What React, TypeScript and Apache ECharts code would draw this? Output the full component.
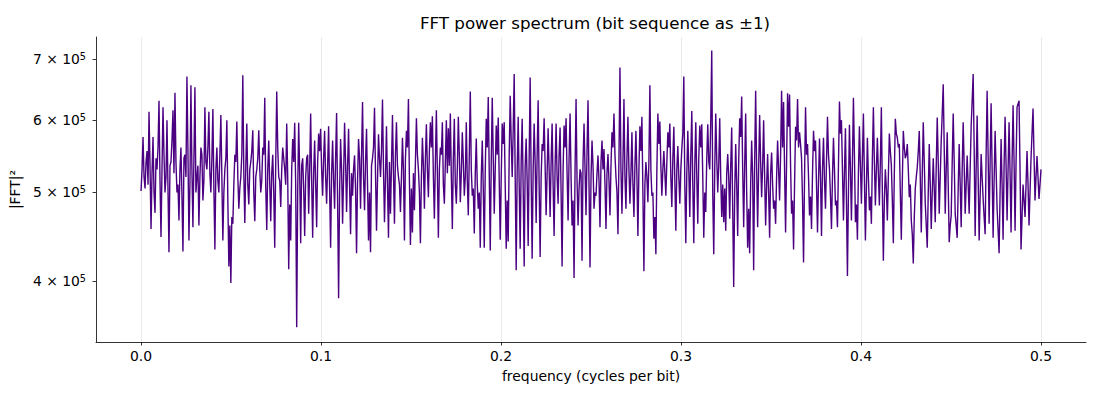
import React, { useEffect, useRef } from "react";
import * as echarts from "echarts";

// |FFT|^2 values in units of 1e5 (frequency 0 .. 0.5).
// "seg" arrays hold the visible spikes, "core" arrays the dense band between them.
const seg1 = [
  5.02, 5.75, 5.05, 5.55, 6.13, 4.56, 5.75, 4.75, 5.3, 6.30,
  4.47, 6.2, 5.0, 6.0, 4.3, 5.4, 6.15, 6.43, 5.0, 4.66,
  5.6, 4.31, 5.5, 6.7, 4.43, 6.55, 4.58, 6.52, 5.2, 4.6,
  5.6, 4.9, 6.2, 5.3, 6.13, 5.0, 6.17, 4.33, 5.6, 5.0,
  6.08, 4.43, 5.3, 6.0, 4.15, 3.98, 4.62, 5.5, 5.98, 4.8,
  5.2, 6.72, 4.63, 5.95, 4.85, 5.4, 5.85, 4.65, 5.3, 5.85,
  5.0, 5.6, 6.35, 4.55, 5.7, 4.65, 5.5, 4.35, 6.45, 5.2,
  4.82, 5.6, 5.3, 5.95, 4.12, 4.43,
];
const core1 = [
  5.3, 5.2, 5.4, 5.1, 5.35, 5.25, 5.0, 5.45, 5.6, 5.15,
  5.3, 5.5, 5.2, 5.05, 5.35, 5.7, 5.25, 5.4, 5.1, 5.3,
  4.95, 5.45, 5.2, 5.55, 5.1, 5.3, 5.45, 5.0, 5.35, 5.2,
  5.5, 5.15, 5.4, 5.6, 5.25, 5.45, 5.05, 5.3, 5.15, 5.5,
  5.2, 5.0, 5.45, 4.9, 4.6, 4.7, 5.1, 5.4, 5.2, 5.05,
  5.5, 5.25, 5.35, 5.1, 5.3, 5.55, 5.0, 5.2, 5.45, 5.3,
  5.15, 5.5, 5.05, 5.3, 5.1, 5.25, 5.0, 5.4, 5.6, 5.15,
  5.3, 5.45, 5.1, 5.2, 4.85, 5.3,
];
const seg2 = [
  5.72, 5.96, 3.56, 5.96, 4.40, 5.45, 4.48, 5.45, 4.74, 6.10,
  4.46, 5.70, 4.58, 5.80, 5.87, 4.96, 5.84, 4.86, 5.91, 4.35,
  5.70, 4.80, 6.11, 3.83, 5.72, 4.62, 5.96, 4.76, 5.87, 4.50,
  4.96, 5.49, 4.29, 5.72, 4.80, 6.28, 4.78, 5.87, 4.43, 4.30,
  5.45, 6.19, 4.54, 5.79, 5.2, 6.32, 4.64, 5.91, 4.46, 4.74,
  6.08, 4.62, 5.97, 5.2, 4.76, 5.74, 4.43, 5.84, 6.33, 4.38,
  4.52, 4.78, 6.03, 5.3, 4.40, 5.74, 4.80, 5.94, 4.94, 5.97,
  6.06, 4.68, 6.15, 4.46, 5.6, 5.97, 4.86, 6.0,
];
const core2 = [
  5.4, 5.1, 5.0, 5.25, 5.35, 5.05, 5.2, 5.5, 5.3, 5.15,
  5.25, 5.1, 5.4, 5.55, 5.3, 5.45, 5.2, 5.35, 5.05, 5.25,
  5.15, 5.45, 4.9, 5.0, 5.3, 5.2, 5.4, 5.35, 5.1, 5.25,
  5.3, 5.05, 5.15, 5.45, 5.5, 5.2, 5.4, 5.1, 5.0, 5.35,
  5.6, 5.25, 5.15, 5.45, 5.55, 5.3, 5.2, 5.1, 5.4, 5.35,
  5.25, 5.5, 5.35, 5.1, 5.2, 5.3, 5.45, 5.6, 5.15, 5.05,
  5.25, 5.4, 5.5, 5.0, 5.2, 5.35, 5.45, 5.3, 5.55, 5.6,
  5.2, 5.4, 5.25, 5.3, 5.5, 5.1, 5.4, 5.25,
];
const seg3 = [
  5.88, 6.10, 4.56, 6.02, 4.86, 6.05, 4.88, 5.82, 4.96, 5.97,
  4.72, 6.45, 4.96, 4.51, 5.73, 4.80, 4.35, 5.70, 4.35, 6.02,
  6.36, 4.32, 6.35, 4.74, 5.92, 6.04, 4.44, 5.95, 5.97, 4.34,
  4.42, 6.38, 5.2, 6.74, 4.11, 6.05, 4.34, 6.02, 4.15, 5.73,
  4.37, 6.68, 4.23, 5.95, 4.63, 6.31, 4.25, 5.65, 6.03, 4.72,
  5.88, 4.70, 5.95, 4.48, 5.95, 4.86, 5.89, 4.15, 5.92, 6.03,
  4.66, 6.10, 4.60, 4.03, 6.33, 4.60, 5.3, 4.21, 5.95, 4.72,
  6.31, 4.14, 5.70, 4.80, 4.96, 5.49, 4.58, 5.70,
];
const core3 = [
  5.35, 5.2, 5.45, 5.1, 5.3, 5.5, 5.25, 5.4, 5.2, 5.15,
  5.5, 5.3, 5.05, 5.25, 5.1, 5.0, 5.2, 5.05, 5.3, 5.6,
  5.25, 5.4, 5.45, 5.3, 5.5, 5.15, 5.2, 5.65, 5.1, 4.9,
  5.5, 5.7, 5.85, 5.2, 5.3, 5.1, 5.4, 5.05, 5.35, 5.15,
  5.45, 5.2, 5.3, 5.4, 5.5, 5.1, 5.2, 5.55, 5.35, 5.25,
  5.3, 5.4, 5.1, 5.35, 5.2, 5.5, 5.0, 5.3, 5.6, 5.25,
  5.45, 5.2, 4.9, 5.3, 5.15, 5.05, 5.25, 5.4, 5.3, 5.55,
  5.1, 5.2, 5.35, 5.0, 5.25, 5.15, 5.4, 5.3,
];
const seg4 = [
  5.58, 4.56, 5.51, 4.72, 5.82, 6.10, 5.2, 4.50, 6.85, 4.74,
  6.33, 4.80, 6.05, 4.86, 5.82, 4.70, 5.84, 4.48, 5.91, 6.05,
  4.10, 5.40, 4.88, 6.55, 4.96, 4.45, 4.28, 6.10, 5.98, 4.96,
  5.55, 4.96, 5.82, 5.95, 4.82, 5.90, 4.54, 5.62, 4.86, 5.58,
  6.70, 4.40, 5.84, 4.70, 6.14, 4.40, 5.97, 4.62, 5.92, 5.94,
  4.46, 4.76, 5.94, 5.3, 7.15, 4.28, 6.1, 5.0, 6.03, 4.70,
  4.64, 4.54, 5.51, 4.68, 5.89, 3.94, 5.65, 4.48, 6.03, 6.37,
  4.58, 6.10, 4.35, 4.29, 5.70, 4.11, 6.46,
];
const core4 = [
  5.1, 5.25, 5.15, 5.35, 5.6, 5.5, 5.0, 5.45, 5.3, 5.4,
  5.2, 5.45, 5.3, 5.25, 5.1, 5.35, 5.2, 5.3, 5.55, 5.0,
  5.1, 5.2, 5.4, 5.3, 5.0, 4.7, 5.3, 5.65, 5.35, 5.3,
  5.25, 5.4, 5.6, 5.2, 5.45, 5.15, 5.3, 5.2, 5.3, 5.8,
  5.1, 5.25, 5.3, 5.5, 5.1, 5.35, 5.2, 5.45, 5.6, 5.2,
  5.0, 5.45, 5.4, 6.0, 5.0, 5.3, 5.45, 5.35, 5.2, 5.1,
  5.05, 5.25, 5.2, 5.35, 4.8, 5.0, 5.1, 5.4, 5.75, 5.3,
  5.35, 5.0, 4.8, 5.1, 5.2, 5.4, 5.3,
];
const seg5 = [
  4.58, 6.08, 4.94, 6.0, 4.60, 5.51, 4.46, 5.53, 4.80, 4.62,
  5.70, 4.90, 6.46, 6.28, 4.52, 6.42, 6.40, 4.74, 4.33, 5.9,
  6.33, 5.82, 5.45, 4.19, 6.2, 5.65, 4.72, 4.56, 5.84, 5.70,
  4.52, 5.73, 4.48, 5.74, 4.80, 6.05, 5.3, 4.56, 5.74, 4.84,
  4.58, 6.29, 6.0, 4.66, 5.88, 4.05, 5.93, 4.66, 6.35, 4.64,
  4.44, 5.91, 4.86, 6.10, 4.43, 5.74, 4.78, 4.62, 6.2, 4.84,
  5.74, 4.84, 6.2, 4.21, 5.3, 4.66, 5.80, 5.36, 4.40, 6.02,
  5.74, 5.65, 4.44, 5.84, 5.45, 5.65, 4.94,
];
const core5 = [
  5.3, 5.4, 5.35, 5.2, 5.1, 5.0, 5.25, 5.1, 4.9, 5.2,
  5.3, 5.5, 5.6, 5.3, 5.4, 5.9, 5.35, 4.9, 5.1, 5.7,
  5.6, 5.65, 4.9, 5.2, 5.5, 5.2, 4.95, 5.25, 5.55, 5.1,
  5.15, 5.2, 5.3, 5.15, 5.4, 5.5, 4.95, 5.2, 5.3, 4.9,
  5.35, 5.8, 5.3, 5.25, 4.9, 5.0, 5.3, 5.4, 5.5, 4.85,
  5.25, 5.35, 5.45, 5.2, 5.05, 5.2, 4.95, 5.45, 5.4, 5.3,
  5.25, 5.4, 5.0, 4.9, 5.05, 5.2, 5.55, 4.9, 5.25, 5.8,
  5.6, 5.0, 5.15, 5.6, 5.5, 5.3, 5.1,
];
const seg6 = [
  4.66, 4.18, 5.05, 5.33, 5.84, 4.52, 5.97, 4.86, 4.35, 5.65,
  4.56, 5.45, 4.64, 6.04, 4.74, 5.70, 6.57, 4.74, 5.82, 4.41,
  4.72, 6.10, 4.74, 4.46, 5.65, 4.58, 5.97, 4.74, 5.49, 4.74,
  5.91, 6.74, 4.48, 6.07, 4.43, 5.51, 4.92, 4.50, 6.46, 4.62,
  6.26, 4.46, 5.84, 4.80, 4.29, 5.72, 4.44, 6.05, 4.66, 5.97,
  4.52, 6.23, 4.54, 6.20, 6.30, 4.33, 5.1, 4.70, 5.55, 4.60,
  5.45, 6.18, 4.90, 5.48, 4.92, 5.3,
];
const core6 = [
  4.5, 4.7, 5.2, 5.55, 5.2, 5.25, 5.4, 4.6, 5.0, 5.1,
  5.0, 5.05, 5.35, 5.4, 5.2, 6.1, 5.6, 5.3, 5.1, 4.6,
  5.4, 5.4, 4.6, 5.05, 5.1, 5.3, 5.35, 5.1, 5.1, 5.3,
  6.3, 5.6, 5.3, 5.2, 4.95, 5.2, 4.7, 5.5, 5.5, 5.4,
  5.3, 5.15, 5.3, 4.55, 5.0, 5.1, 5.35, 5.35, 5.3, 5.25,
  5.4, 5.4, 5.4, 6.25, 5.3, 4.7, 4.9, 5.1, 5.1, 5.0,
  5.8, 5.5, 5.2, 5.2, 5.1,
];

const nyquist = 0.5;
const xTicks = [0, 0.1, 0.2, 0.3, 0.4, 0.5];
const yTickValues = [4e5, 5e5, 6e5, 7e5];

const FONT = "DejaVu Sans";

function weave(spikes: number[], core: number[]): number[] {
  const out: number[] = [];
  spikes.forEach((v, i) => {
    out.push(v);
    if (i < core.length) out.push(core[i]);
  });
  return out;
}

export default function App() {
  const ref = useRef<HTMLDivElement>(null);
  useEffect(() => {
    if (!ref.current) return;
    const chart = echarts.init(ref.current, null, { renderer: "svg" });
    const powerE5 = [
      ...weave(seg1, core1),
      ...weave(seg2, core2),
      ...weave(seg3, core3),
      ...weave(seg4, core4),
      ...weave(seg5, core5),
      ...weave(seg6, core6),
    ];
    const n = powerE5.length;
    const data = powerE5.map((v, i) => [(i * nyquist) / (n - 1), Math.log10(v * 1e5)]);
    const yTicks = yTickValues.map((v) => Math.log10(v));
    chart.setOption({
      animation: false,
      backgroundColor: "#ffffff",
      textStyle: { fontFamily: FONT },
      title: {
        text: "FFT power spectrum (bit sequence as ±1)",
        left: 590,
        top: 9,
        textAlign: "center",
        textStyle: { fontSize: 16.7, fontWeight: "normal", color: "#000", fontFamily: FONT },
      },
      grid: { left: 94, right: 14, top: 37, bottom: 58, containLabel: false },
      xAxis: {
        type: "value",
        min: -0.025,
        max: 0.525,
        name: "frequency (cycles per bit)",
        nameLocation: "middle",
        nameGap: 27,
        nameTextStyle: { fontSize: 13.9, color: "#000", fontFamily: FONT },
        axisLine: { show: true, onZero: false, lineStyle: { color: "#000", width: 0.8 } },
        axisTick: { show: true, length: 3.5, customValues: xTicks, lineStyle: { color: "#000", width: 0.8 } },
        axisLabel: {
          customValues: xTicks,
          formatter: (v: number) => v.toFixed(1),
          margin: 7,
          fontSize: 13.9,
          color: "#000",
          fontFamily: FONT,
        },
        splitLine: { show: true, lineStyle: { color: "#e6e6e6", width: 0.8 } },
      },
      yAxis: {
        type: "value",
        min: 5.5353,
        max: 5.8692,
        name: "|FFT|²",
        nameLocation: "middle",
        nameGap: 64,
        nameRotate: 90,
        nameTextStyle: { fontSize: 13.9, color: "#000", fontFamily: FONT },
        axisLine: { show: true, onZero: false, lineStyle: { color: "#000", width: 0.8 } },
        axisTick: { show: true, length: 3.5, customValues: yTicks, lineStyle: { color: "#000", width: 0.8 } },
        axisLabel: {
          customValues: yTicks,
          formatter: (v: number) => `{a|${Math.round(Math.pow(10, v) / 1e5)} × 10}{b|5}`,
          margin: 10,
          fontSize: 13.9,
          color: "#000",
          fontFamily: FONT,
          rich: {
            a: { fontSize: 13.9, lineHeight: 16, color: "#000", fontFamily: FONT },
            b: { fontSize: 9.7, lineHeight: 8, color: "#000", fontFamily: FONT, verticalAlign: "top" },
          },
        },
        splitLine: { show: false },
      },
      series: [
        {
          type: "line",
          data,
          showSymbol: false,
          symbol: "none",
          silent: true,
          clip: true,
          lineStyle: { color: "#4b0082", width: 1.4 },
        },
      ],
    });
    return () => chart.dispose();
  }, []);
  return (
    <div
      ref={ref}
      style={{ position: "fixed", left: 0, top: 0, width: 1100, height: 400, background: "#fff" }}
    />
  );
}
